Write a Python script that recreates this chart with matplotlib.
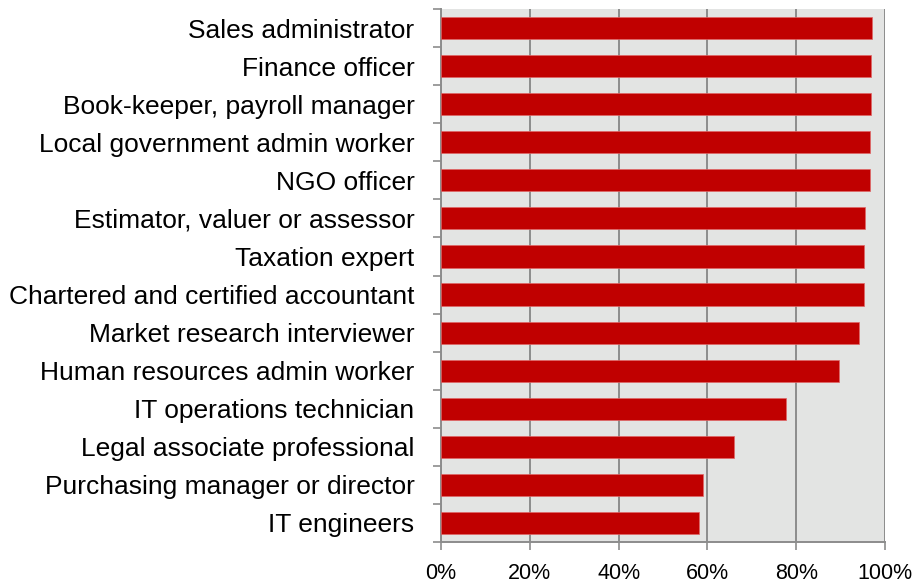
import matplotlib.pyplot as plt
import numpy as np

categories = [
    "Sales administrator",
    "Finance officer",
    "Book-keeper, payroll manager",
    "Local government admin worker",
    "NGO officer",
    "Estimator, valuer or assessor",
    "Taxation expert",
    "Chartered and certified accountant",
    "Market research interviewer",
    "Human resources admin worker",
    "IT operations technician",
    "Legal associate professional",
    "Purchasing manager or director",
    "IT engineers",
]
values = [97.1, 96.9, 96.9, 96.7, 96.7, 95.4, 95.2, 95.2, 94.1, 89.7, 77.8, 65.9, 59.0, 58.2]
xticks = [0, 20, 40, 60, 80, 100]
xtick_labels = ["0%", "20%", "40%", "60%", "80%", "100%"]

plt.rcParams['font.family'] = ['Liberation Sans', 'DejaVu Sans']

fig = plt.figure(figsize=(9.16, 5.86), dpi=100)
ax = fig.add_axes([441 / 916, 1 - 542 / 586, 444 / 916, 533 / 586])

n = len(categories)
y = np.arange(n)
ax.barh(y, values, height=0.58, color='#C00000', edgecolor='#E06666', linewidth=0.5, zorder=3)

ax.set_facecolor('#E3E4E3')
ax.set_xlim(0, 100)
ax.set_ylim(n - 0.5, -0.5)

ax.set_xticks(xticks)
ax.set_xticklabels(xtick_labels, fontsize=15.5)
ax.xaxis.grid(True, color='#8C8C8C', linewidth=1.4, zorder=1)
ax.set_axisbelow(True)

ax.set_yticks(y)
ax.set_yticklabels(categories, fontsize=19)
ax.set_yticks(np.arange(n + 1) - 0.5, minor=True)
ax.tick_params(axis='y', which='major', length=0, pad=19)
ax.tick_params(axis='y', which='minor', length=6, width=1.2, color='#8C8C8C')
ax.tick_params(axis='x', length=6, width=1.2, color='#8C8C8C', pad=9)

for s in ['top', 'right']:
    ax.spines[s].set_visible(False)
for s in ['left', 'bottom']:
    ax.spines[s].set_color('#8C8C8C')
    ax.spines[s].set_linewidth(1.4)

fig.savefig("out.png", dpi=100)
